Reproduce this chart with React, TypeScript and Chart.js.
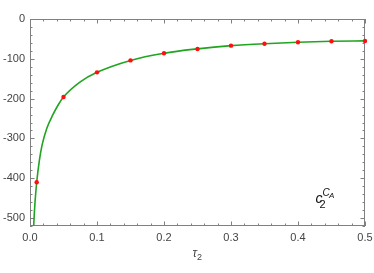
import React, { useEffect, useRef } from "react";
import { Chart, registerables } from "chart.js";

Chart.register(...registerables);

// Curve (tau2 -> value)
const curveX = [0.004, 0.0055, 0.0075, 0.01, 0.014, 0.018, 0.025, 0.034, 0.042, 0.05, 0.075, 0.1, 0.15, 0.2, 0.25, 0.3, 0.35, 0.4, 0.45, 0.5];
const curveY = [-590, -520, -460, -410, -355, -317, -275, -241, -216, -196, -158, -134, -104, -86, -75, -67, -62, -58.5, -56, -55];

// Red sample points
const pointX = [0.01, 0.05, 0.1, 0.15, 0.2, 0.25, 0.3, 0.35, 0.4, 0.45, 0.5];
const pointY = [-410, -196, -134, -104, -86, -75.4, -67, -62, -58.5, -56, -55.3];

const xTicks = [0, 0.1, 0.2, 0.3, 0.4, 0.5];
const yTicks = [-500, -400, -300, -200, -100, 0];

const X_MIN = 0, X_MAX = 0.5, Y_MIN = -520, Y_MAX = 0;

const FONT = "'Liberation Sans', Arial, sans-serif";

const framePlugin = {
  id: "frame",
  beforeDatasetsDraw(chart: any) {
    const { ctx, chartArea } = chart;
    const { left, right, top, bottom } = chartArea;
    const xs = chart.scales.x;
    const ys = chart.scales.y;
    ctx.save();
    ctx.strokeStyle = "#808080";
    ctx.lineWidth = 1;
    ctx.strokeRect(Math.round(left) + 0.5, Math.round(top) + 0.5, Math.round(right - left) - 1, Math.round(bottom - top) - 1);
    ctx.beginPath();
    // x ticks
    for (let i = 0; i <= 25; i++) {
      const v = X_MIN + i * 0.02;
      const px = Math.round(xs.getPixelForValue(v)) + 0.5;
      const len = i % 5 === 0 ? 4.5 : 2.5;
      ctx.moveTo(px, bottom);
      ctx.lineTo(px, bottom - len);
      ctx.moveTo(px, top);
      ctx.lineTo(px, top + len);
    }
    // y ticks
    for (let i = 0; i <= 26; i++) {
      const v = Y_MIN + i * 20;
      const py = Math.round(ys.getPixelForValue(v)) + 0.5;
      const len = v % 100 === 0 ? 4.5 : 2.5;
      ctx.moveTo(left, py);
      ctx.lineTo(left + len, py);
      ctx.moveTo(right, py);
      ctx.lineTo(right - len, py);
    }
    ctx.stroke();

    // axis title tau_2
    const cx = (left + right) / 2;
    ctx.fillStyle = "#444";
    ctx.textBaseline = "alphabetic";
    ctx.textAlign = "left";
    ctx.font = `italic 12px ${FONT}`;
    const tw = ctx.measureText("τ").width;
    ctx.fillText("τ", cx - tw - 0.5, 257);
    ctx.font = `9px ${FONT}`;
    ctx.fillText("2", cx - 0.5, 260);

    // label c_2^{C_A}
    ctx.fillStyle = "#111";
    ctx.font = `italic 14px ${FONT}`;
    ctx.fillText("c", 315.5, 203.3);
    ctx.font = `11px ${FONT}`;
    ctx.fillText("2", 319.5, 208.3);
    ctx.font = `italic 10px ${FONT}`;
    ctx.fillText("C", 322.5, 195.7);
    ctx.font = `italic 8px ${FONT}`;
    ctx.fillText("A", 329, 198.3);
    ctx.restore();
  },
};

export default function App() {
  const ref = useRef<HTMLCanvasElement>(null);
  useEffect(() => {
    const canvas = ref.current;
    if (!canvas) return;
    const chart = new Chart(canvas, {
      type: "scatter",
      data: {
        datasets: [
          {
            label: "points",
            data: pointX.map((x, i) => ({ x, y: pointY[i] })),
            backgroundColor: "#ff1010",
            borderColor: "#ff1010",
            pointRadius: 2.2,
            pointBorderWidth: 0,
            showLine: false,
            clip: false,
            order: 0,
          },
          {
            label: "curve",
            data: curveX.map((x, i) => ({ x, y: curveY[i] })),
            borderColor: "#1fa51f",
            borderWidth: 1.6,
            pointRadius: 0,
            showLine: true,
            cubicInterpolationMode: "monotone",
            order: 1,
          },
        ],
      },
      plugins: [framePlugin],
      options: {
        responsive: false,
        animation: false,
        layout: { padding: { top: 19, right: 9, left: 0, bottom: 0 } },
        plugins: { legend: { display: false }, tooltip: { enabled: false } },
        scales: {
          x: {
            type: "linear",
            min: X_MIN,
            max: X_MAX,
            afterFit: (s: any) => {
              s.height = 47;
              s.paddingLeft = 0;
              s.paddingRight = 0;
            },
            afterBuildTicks: (s: any) => { s.ticks = xTicks.map((v) => ({ value: v })); },
            grid: { display: false, drawTicks: false },
            border: { display: false },
            ticks: {
              padding: 5,
              color: "#444",
              font: { family: FONT, size: 11 },
              callback: (v: any) => Number(v).toFixed(1),
            },
          },
          y: {
            type: "linear",
            min: Y_MIN,
            max: Y_MAX,
            afterFit: (s: any) => {
              s.width = 30;
              s.paddingTop = 0;
              s.paddingBottom = 0;
            },
            afterBuildTicks: (s: any) => { s.ticks = yTicks.map((v) => ({ value: v })); },
            grid: { display: false, drawTicks: false },
            border: { display: false },
            ticks: {
              padding: 5,
              color: "#444",
              font: { family: FONT, size: 11 },
              callback: (v: any) => String(v),
            },
          },
        },
      },
    });
    return () => chart.destroy();
  }, []);
  return (
    <div style={{ position: "fixed", left: 0, top: 0, width: 374, height: 273, background: "#fff" }}>
      <canvas ref={ref} width={374} height={273} style={{ width: 374, height: 273 }} />
    </div>
  );
}
